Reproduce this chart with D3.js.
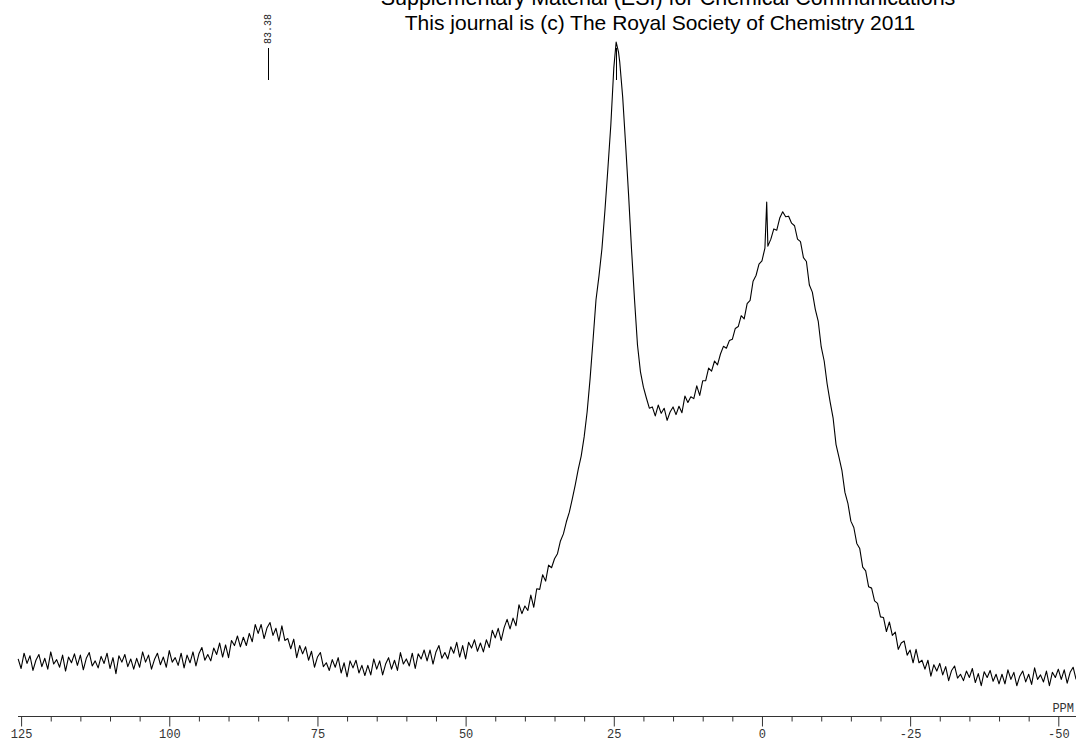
<!DOCTYPE html>
<html>
<head>
<meta charset="utf-8">
<script src="https://cdn.jsdelivr.net/npm/d3@7"></script>
<style>
  body { margin: 0; background: #fff; }
  svg { display: block; }
</style>
</head>
<body>
<div id="draw_here"></div>
<script type="text/javascript">
    // header text (page is cut at the top, first line only partly visible)
    titleLines = ["Supplementary Material (ESI) for Chemical Communications",
                  "This journal is (c) The Royal Society of Chemistry 2011"]

    // axis ticks, ppm
    majorTicks = [125, 100, 75, 50, 25, 0, -25, -50]
    minorTicks = [120, 115, 110, 105, 95, 90, 85, 80, 70, 65, 60, 55, 45, 40, 35, 30,
                  20, 15, 10, 5, -5, -10, -15, -20, -30, -35, -40, -45]
    axisUnit = "PPM"

    // picked peaks (label of the tall one is hidden under the header)
    peakPpm = [83.38, 24.6]
    peakText = ["83.38", ""]

    // spectrum: [ppm, intensity in % of tallest peak]
    baselineLeft = [
        [125.5,3.3],[125,1.8],[124.5,4.2],[124,2.6],[123.5,3.8],[123,1.5],[122.5,3.1],[122,4.0],
        [121.5,2.1],[121,3.4],[120.5,1.7],[120,4.4],[119.5,2.5],[119,3.2],[118.5,2.0],[118,3.9],
        [117.5,1.4],[117,3.6],[116.5,2.7],[116,4.1],[115.5,2.3],[115,3.9],[114.5,1.6],[114,3.4],
        [113.5,4.3],[113,2.2],[112.5,3.0],[112,1.9],[111.5,3.7],[111,2.6],[110.5,4.2],[110,1.8],
        [109.5,3.5],[109,1.0],[108.5,3.8],[108,2.8],[107.5,4.0],[107,2.1],[106.5,3.3],[106,1.7],
        [105.5,3.4],[105,2.0],[104.5,4.4],[104,2.8],[103.5,3.9],[103,1.7],[102.5,3.2],[102,4.2],
        [101.5,2.4],[101,3.6],[100.5,2.0],[100,4.6],[99.5,2.8],[99,3.5],[98.5,2.3],[98,4.2],
        [97.5,1.9],[97,3.9]
    ]
    humpSegment = [
        [96.5,2.7],[96,4.4],[95.5,2.2],[95,4.1],[94.5,5.1],[94,3.1],[93.5,4.0],[93,3.0],
        [92.5,5.0],[92,4.0],[91.5,5.8],[91,3.6],[90.5,5.5],[90,3.5],[89.5,6.2],[89,5.4],
        [88.5,6.9],[88,5.2],[87.5,6.7],[87,5.4],[86.5,7.3],[86,6.0],[85.5,8.7],[85,7.3],
        [84.5,8.7],[84,6.5],[83.5,8.2],[83,9.0],[82.5,7.0],[82,8.1],[81.5,6.1],[81,8.5],
        [80.5,6.2],[80,6.5],[79.5,4.9],[79,6.4],[78.5,3.5],[78,5.4],[77.5,4.1],[77,5.2],
        [76.5,3.1],[76,4.5],[75.5,2.0],[75,3.6],[74.5,4.3],[74,2.1],[73.5,2.7],[73,1.5],
        [72.5,3.2],[72,2.0],[71.5,3.5],[71,1.1],[70.5,2.7],[70,0.5]
    ]
    riseSegment = [
        [69.5,3.0],[69,1.9],[68.5,3.1],[68,1.1],[67.5,2.3],[67,0.7],[66.5,2.3],[66,0.8],
        [65.5,3.3],[65,1.7],[64.5,3.0],[64,0.8],[63.5,2.5],[63,3.5],[62.5,1.7],[62,3.1],
        [61.5,1.5],[61,4.3],[60.5,2.5],[60,3.3],[59.5,2.2],[59,4.2],[58.5,1.8],[58,4.1],
        [57.5,3.3],[57,4.7],[56.5,3.0],[56,4.7],[55.5,2.5],[55,4.4],[54.5,5.4],[54,3.4],
        [53.5,4.3],[53,3.3],[52.5,5.2],[52,4.2],[51.5,5.9],[51,3.6],[50.5,5.4],[50,3.3],
        [49.5,5.9],[49,5.0],[48.5,6.3],[48,4.5],[47.5,5.8],[47,4.4],[46.5,6.3],[46,5.1],
        [45.5,7.8],[45,6.6],[44.5,8.1],[44,6.2],[43.5,8.2],[43,9.5],[42.5,8.0],[42,9.7],
        [41.5,8.5],[41,11.8],[40.5,10.4],[40,11.6],[39.5,10.9],[39,13.3],[38.5,11.4],[38,14.3],
        [37.5,14.2],[37,16.5],[36.5,15.5],[36,18.0]
    ]
    mainPeak = [
        [35.5,17.6],[35,19.0],[34.5,19.8],[34,21.8],[33.5,22.9],[33,24.8],[32.5,26.3],[32,28.4],
        [31.5,30.6],[31,33.0],[30.5,35.1],[30,38.1],[29.5,42.0],[29,47.2],[28.5,53.3],[28,59.6],
        [27.5,63.3],[27,67.6],[26.5,73.5],[26,80.1],[25.5,87.0],[25,95.9],[24.6,100],[24.2,98.4],
        [24,96.9],[23.5,91.4],[23,83.9],[22.5,76.0],[22,67.4],[21.5,59.6],[21,52.5],[20.5,48.3],
        [20,45.9],[19.5,44.2],[19,42.6]
    ]
    broadPeak = [
        [18.5,42.8],[18,41.4],[17.5,43.1],[17,41.8],[16.5,42.6],[16,40.7],[15.5,42.0],[15,42.8],
        [14.5,41.6],[14,42.9],[13.5,41.9],[13,44.5],[12.5,43.5],[12,44.4],[11.5,44.1],[11,46.1],
        [10.5,44.6],[10,46.9],[9.5,46.9],[9,48.9],[8.5,48.4],[8,50.0],[7.5,49.4],[7,51.1],
        [6.5,52.3],[6,52.0],[5.5,53.2],[5,53.4],[4.5,55.1],[4,55.4],[3.5,57.1],[3,56.6],
        [2.5,59.0],[2,59.5],[1.5,62.5],[1,63.4],[0.5,65.2],[0,65.7],[-0.5,67.7],[-0.8,74.9],
        [-1.0,68.0],[-1.5,69.1],[-2,70.7],[-2.5,70.5],[-3,72.4],[-3.5,73.4],[-4,72.6],[-4.5,72.7],
        [-5,71.6],[-5.5,71.2],[-6,69.1],[-6.5,68.7],[-7,66.2],[-7.5,65.6],[-8,61.9],[-8.5,60.8],
        [-9,58.1],[-9.5,56.2],[-10,52.2],[-10.5,50.0],[-11,46.4],[-11.5,43.6],[-12,41.1],[-12.5,36.9],
        [-13,34.9],[-13.5,32.8],[-14,29.4],[-14.5,27.7],[-15,24.9],[-15.5,23.9],[-16,21.4],[-16.5,20.6],
        [-17,17.7],[-17.5,17.1],[-18,14.6],[-18.5,14.4],[-19,12.4],[-19.5,12.0],[-20,9.9]
    ]
    tailRight = [
        [-20.5,9.8],[-21,7.6],[-21.5,9.1],[-22,7.0],[-22.5,7.5],[-23,4.8],[-23.5,5.8],[-24,6.1],
        [-24.5,3.9],[-25,4.7],[-25.5,2.7],[-26,4.8],[-26.5,2.7],[-27,3.1],[-27.5,1.7],[-28,3.1],
        [-28.5,0.6],[-29,2.4],[-29.5,1.4],[-30,2.6],[-30.5,0.8],[-31,2.1],[-31.5,-0.1],[-32,1.5],
        [-32.5,2.2],[-33,0.3],[-33.5,0.9],[-34,-0.1],[-34.5,1.4],[-35,0.4],[-35.5,1.8],[-36,-0.4],
        [-36.5,1.0],[-37,-0.9],[-37.5,1.3],[-38,0.4],[-38.5,1.5],[-39,-0.2],[-39.5,0.9],[-40,-0.6],
        [-40.5,0.9],[-41,-0.6],[-41.5,1.6],[-42,0.1],[-42.5,1.2],[-43,-0.9],[-43.5,0.6],[-44,1.4],
        [-44.5,-0.3],[-45,0.9],[-45.5,-0.7],[-46,1.9],[-46.5,0.1],[-47,0.8],[-47.5,-0.3],[-48,1.4],
        [-48.5,-0.9],[-49,1.2],[-49.5,0.4],[-50,1.7],[-50.5,0.1],[-51,1.6],[-51.5,-0.5],[-52,1.2],
        [-52.5,2.0],[-53,0.1]
    ]
    spectrum = [].concat(baselineLeft, humpSegment, riseSegment, mainPeak, broadPeak, tailRight)

    // Setup Chart
    canvas = ({width: 1076, height: 744})
    axisY = 716.5
    mono = "'Liberation Mono', 'DejaVu Sans Mono', monospace"

    x = d3.scaleLinear()
        .domain([125, -50])
        .range([21.1, 1058.3])

    y = d3.scaleLinear()
        .domain([0, 100])
        .range([680, 42])

    var svg = d3.select("div#draw_here").append("svg")
        .attr("width", canvas.width)
        .attr("height", canvas.height)
        .attr("viewBox", [0, 0, canvas.width, canvas.height])

    svg.append("rect")
        .attr("width", canvas.width)
        .attr("height", canvas.height)
        .attr("fill", "#fff")

    // Draw spectrum
    line = d3.line()
        .x(d => x(d[0]))
        .y(d => y(d[1]))

    svg.append("path")
        .attr("fill", "none")
        .attr("stroke", "#000")
        .attr("stroke-width", 1.1)
        .attr("stroke-linejoin", "round")
        .attr("d", line(spectrum))

    // Peak markers
    peaks = svg.append("g")
    peakPpm.forEach(function(p, i) {
        peaks.append("line")
            .attr("x1", Math.round(x(p)) + 0.5).attr("x2", Math.round(x(p)) + 0.5)
            .attr("y1", 48).attr("y2", 80)
            .attr("stroke", "#000")
            .attr("stroke-width", 1)
        if (peakText[i]) {
            peaks.append("text")
                .attr("transform", `translate(${x(p) + 3.5},44) rotate(-90)`)
                .attr("font-family", mono)
                .attr("font-size", 10)
                .attr("fill", "#222")
                .text(peakText[i])
        }
    })

    // Axis
    svg.append("line")
        .attr("x1", 18).attr("x2", canvas.width)
        .attr("y1", axisY).attr("y2", axisY)
        .attr("stroke", "#333")
        .attr("stroke-width", 1)

    xAxisMajor = g => g
        .attr("transform", `translate(0,${axisY})`)
        .call(d3.axisBottom(x).tickValues(majorTicks).tickSize(10).tickPadding(3)
            .tickFormat(d => String(d)))
        .call(g => g.select(".domain").remove())

    xAxisMinor = g => g
        .attr("transform", `translate(0,${axisY})`)
        .call(d3.axisBottom(x).tickValues(minorTicks).tickSize(5).tickFormat(""))
        .call(g => g.select(".domain").remove())

    svg.append("g").call(xAxisMinor)
    svg.append("g").call(xAxisMajor)

    svg.selectAll(".tick line").attr("stroke", "#333")
    svg.selectAll(".tick text")
        .attr("font-family", mono)
        .attr("font-size", 12)
        .attr("fill", "#333")

    svg.append("text")
        .attr("x", 1074).attr("y", 712)
        .attr("text-anchor", "end")
        .attr("font-family", mono)
        .attr("font-size", 12)
        .attr("fill", "#333")
        .text(axisUnit)

    // Header on top
    svg.selectAll(".title")
        .data(titleLines)
        .join("text")
        .attr("class", "title")
        .attr("x", (d, i) => i === 0 ? 668 : 660)
        .attr("y", (d, i) => i === 0 ? 5 : 29.5)
        .attr("text-anchor", "middle")
        .attr("font-family", "'Liberation Sans', Arial, sans-serif")
        .attr("font-size", (d, i) => i === 0 ? 21.5 : 21)
        .attr("fill", "#000")
        .text(d => d)
</script>
</body>
</html>
